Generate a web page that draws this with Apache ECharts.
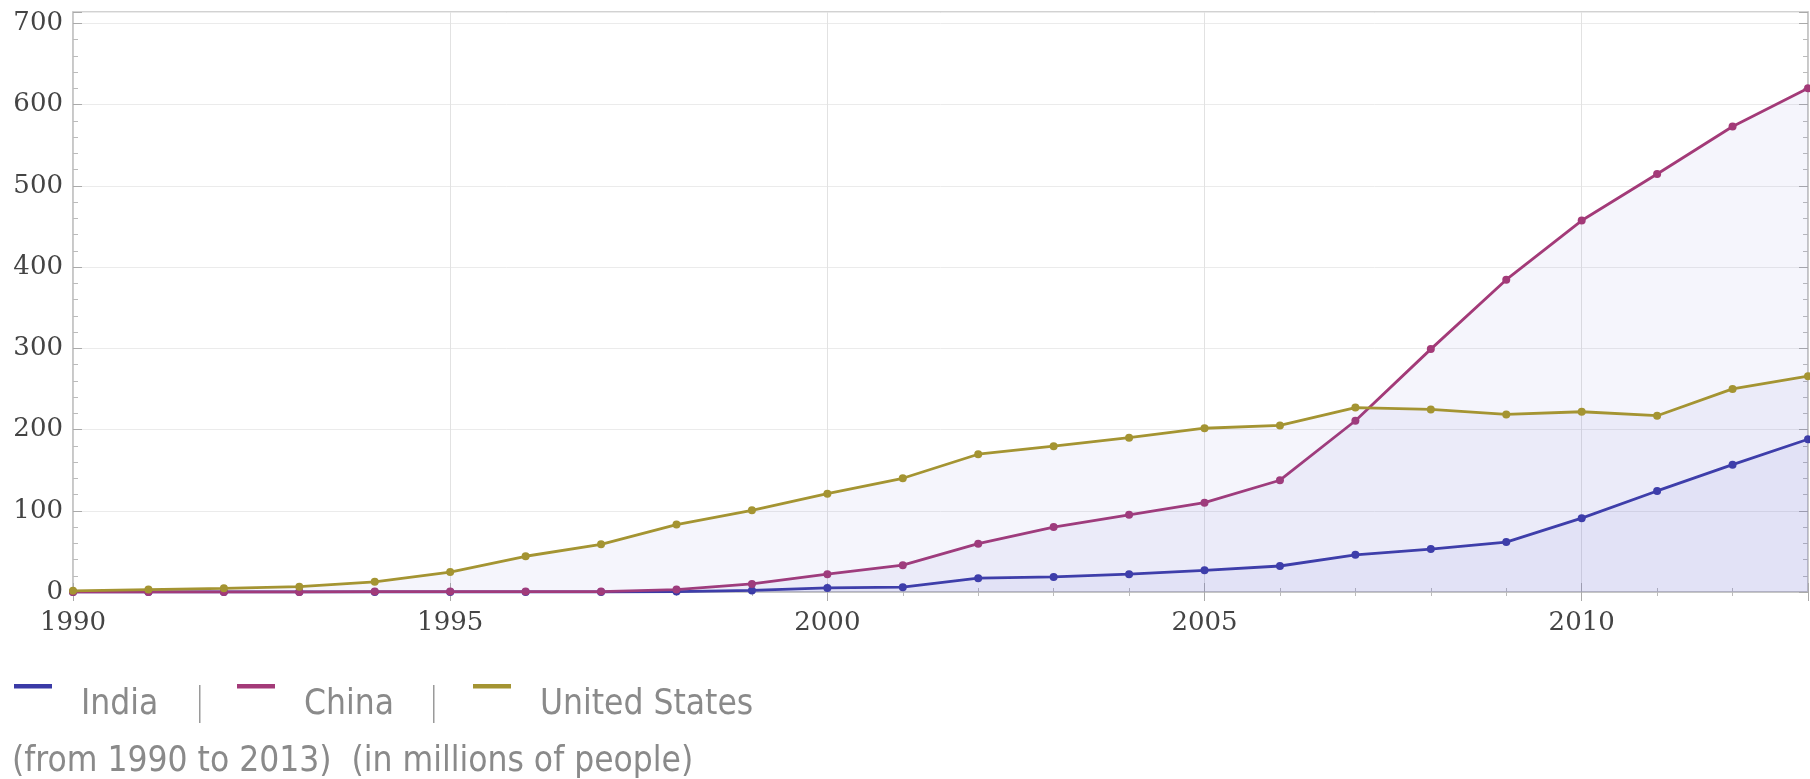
<!DOCTYPE html>
<html>
<head>
<meta charset="utf-8">
<script src="https://cdn.jsdelivr.net/npm/echarts@6/dist/echarts.min.js"></script>
<style>
html,body{margin:0;padding:0;background:#fff;}
#chart{width:1810px;height:779px;}
</style>
</head>
<body>
<div id="chart"></div>
<script>
// ---- data (millions of internet users) ----
var years = [1990,1991,1992,1993,1994,1995,1996,1997,1998,1999,2000,2001,2002,2003,2004,2005,2006,2007,2008,2009,2010,2011,2012,2013];
var india = [0,0,0,0,0,0,0,0,0.5,2,5,6,17,18.5,22,26.7,32,45.8,52.8,61.4,90.9,124.4,156.8,188];
var china = [0,0,0,0,0.5,0.5,0.5,0.5,3,10,22,33,59.5,80,95,110,137.6,210.8,299,384.5,457.3,514.6,573,620];
var usa = [1.5,3,4.5,6.5,12.5,24.6,44,58.7,83,100.6,121,140,169.6,179.5,190,201.6,205,227,224.7,218.6,221.9,217,250,265.7];
var seriesNames = ['India','China','United States'];
var seriesColors = ['#3a3aa6','#a33a78','#a49432'];
var subtitle = '(from 1990 to 2013)  (in millions of people)';

function pairs(vals){ return years.map(function(y,i){ return [y, vals[i]]; }); }
var allVals = [india, china, usa];

var chart = echarts.init(document.getElementById('chart'));

var frameColor = '#c4c4c4';
var labelFont = {fontFamily:'DejaVu Serif', fontSize:26, color:'#444'};
var sansFont = 'DejaVu Sans Condensed, DejaVu Sans';

var series = allVals.map(function(v, i){
  return {
    name: seriesNames[i],
    type: 'line',
    xAxisIndex: 0, yAxisIndex: 0,
    data: pairs(v),
    symbol: 'circle',
    symbolSize: 8,
    lineStyle: {width: 2.8, color: seriesColors[i]},
    itemStyle: {color: seriesColors[i]},
    areaStyle: {color: 'rgba(100,100,215,0.09)'},
    clip: true,
    z: 3 + i
  };
});

// legend drawn as graphics
var legendX = [14, 237, 473];
var textX = [81, 304, 540];
var sepX = [199, 433];
var graphics = [];
seriesNames.forEach(function(n, i){
  graphics.push({type:'rect', left: legendX[i], top: 684, shape:{width:38, height:4.5}, style:{fill: seriesColors[i]}});
  graphics.push({type:'text', left: textX[i], top: 687, style:{text:n, fontFamily:sansFont, fontSize:35, fill:'#8a8a8a'}});
});
sepX.forEach(function(x){
  graphics.push({type:'rect', left: x, top: 685, shape:{width:1.5, height:38}, style:{fill:'#9a9a9a'}});
});
graphics.push({type:'text', left: 12, top: 744, style:{text: subtitle, fontFamily:sansFont, fontSize:35, fill:'#8a8a8a'}});

chart.setOption({
  animation: false,
  backgroundColor: '#fff',
  grid: {left: 73, right: 2, top: 12, bottom: 187, show: true, borderColor: frameColor, borderWidth: 1.5},
  xAxis: [{
    type: 'value', min: 1990, max: 2013, interval: 5, position: 'bottom',
    axisLine: {show: true, lineStyle: {color: frameColor, width: 1.5}},
    axisTick: {show: true, inside: true, length: 9, lineStyle: {color: '#aaa'}},
    minorTick: {show: true, splitNumber: 5, length: 4, lineStyle: {color: '#bbb'}},
    axisLabel: Object.assign({showMaxLabel: false, margin: 18, formatter: function(v){return String(v);}}, labelFont),
    splitLine: {show: true, lineStyle: {color: '#e2e2e2', width: 1}}
  },{
    type: 'value', min: 1990, max: 2013, interval: 5, position: 'top',
    axisLine: {show: true, lineStyle: {color: frameColor, width: 1.5}},
    axisTick: {show: true, inside: true, length: 9, lineStyle: {color: '#aaa'}},
    minorTick: {show: true, splitNumber: 5, length: 4, lineStyle: {color: '#bbb'}},
    axisLabel: {show: false}, splitLine: {show: false}
  }],
  yAxis: [{
    type: 'value', min: 0, max: 714, interval: 100, position: 'left',
    axisLine: {show: true, lineStyle: {color: frameColor, width: 1.5}},
    axisTick: {show: true, inside: true, length: 9, lineStyle: {color: '#aaa'}},
    minorTick: {show: true, splitNumber: 5, length: 5, lineStyle: {color: '#bbb'}},
    axisLabel: Object.assign({showMaxLabel: false, margin: 10}, labelFont),
    splitLine: {show: true, lineStyle: {color: '#ebebeb', width: 1}}
  },{
    type: 'value', min: 0, max: 714, interval: 100, position: 'right',
    axisLine: {show: true, lineStyle: {color: frameColor, width: 1.5}},
    axisTick: {show: true, inside: true, length: 9, lineStyle: {color: '#aaa'}},
    minorTick: {show: true, splitNumber: 5, length: 5, lineStyle: {color: '#bbb'}},
    axisLabel: {show: false}, splitLine: {show: false}
  }],
  series: series,
  graphic: graphics
});
</script>
</body>
</html>
